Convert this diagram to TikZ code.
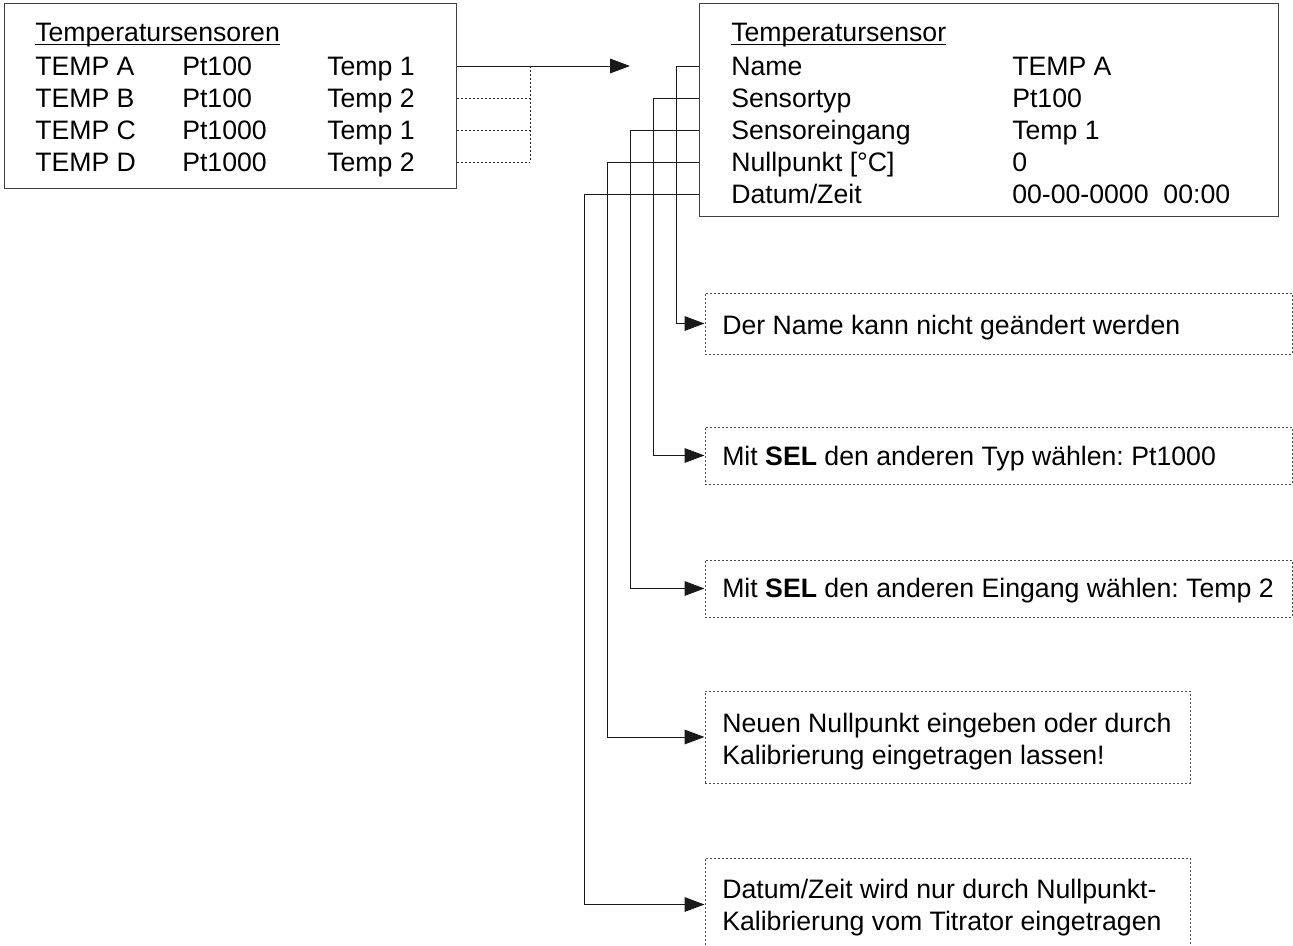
\documentclass[tikz,border=0pt]{standalone}
\usepackage{fontspec}
\setmainfont{Liberation Sans}
\usetikzlibrary{fit,arrows.meta}
\frenchspacing
\newcommand{\ulined}[1]{\setbox0\hbox{#1}\rlap{\rule[-2.6pt]{\wd0}{0.9pt}}#1}

\begin{document}
\begin{tikzpicture}[x=0.75pt, y=-0.75pt, >={Triangle[length=15pt,width=11pt]},
    font=\fontsize{20}{24}\selectfont,
    frame/.style={draw=black!75, line width=0.75pt, inner sep=0pt, fit={#1}},
    callout/.style={draw=black!70, line width=0.75pt, dash pattern=on 1.5pt off 1.5pt,
      inner sep=0pt, fit={#1}},
    txt/.style={anchor=west, inner sep=0pt, text height=19pt, text depth=5pt},
    txtml/.style={anchor=base west, inner sep=0pt, align=left},
    link/.style={black!90, line width=0.75pt},
    hint/.style={black!85, line width=0.75pt, dash pattern=on 1.5pt off 1.5pt}]
  \useasboundingbox (0,0) rectangle (1293,946);

  \node[frame={(4,3) (456,188)}] (sensors) {};
  \node[txt] (lhead) at (35,32) {\ulined{Temperatursensoren}};
  \foreach \n/\y/\s/\t in {A/66/Pt100/1, B/98/Pt100/2, C/130/Pt1000/1, D/162/Pt1000/2}{
    \node[txt] (l\n) at (35,\y) {TEMP \n};
    \node[txt] (p\n) at (182,\y) {\s};
    \node[txt] (t\n) at (327,\y) {Temp \t};
  }

  \node[frame={(699,3) (1278,216)}] (param) {};
  \node[txt] (rhead) at (731,32) {\ulined{Temperatursensor}};
  \foreach \n/\y/\lbl/\val in {rName/66/Name/TEMP A, rTyp/98/Sensortyp/Pt100,
      rEin/130/Sensoreingang/Temp 1, rNull/162/{Nullpunkt [°C]}/0,
      rDat/194/{Datum/Zeit}/{00-00-0000\ \ 00:00}}{
    \node[txt] (\n) at (731,\y) {\lbl};
    \node[txt] (v\n) at (1012,\y) {\val};
  }

  \node[callout={(705,293) (1292,354)}] (cName) {};
  \node[callout={(705,427) (1292,484)}] (cTyp) {};
  \node[callout={(705,560) (1292,617)}] (cEin) {};
  \node[callout={(705,691) (1190,783)}] (cNull) {};
  \node[callout={(705,858) (1190,951)}] (cDat) {};
  \node[txt] (xName) at (722,325) {Der Name kann nicht geändert werden};
  \node[txt] (xTyp) at (722,456) {Mit \textbf{SEL} den anderen Typ wählen: Pt1000};
  \node[txt] (xEin) at (722,588) {Mit \textbf{SEL} den anderen Eingang wählen: Temp 2};
  \node[txtml] (xNull) at (722,764) {Neuen Nullpunkt eingeben oder durch\\Kalibrierung eingetragen lassen!};
  \node[txtml] (xDat) at (722,930) {Datum/Zeit wird nur durch Nullpunkt-\\Kalibrierung vom Titrator eingetragen};

  \coordinate (tip) at (630,66);
  \coordinate (join) at (530,66);
  \draw[link,->] (sensors.east |- lA) -- (tip);
  \foreach \n in {B,C,D}
    \draw[hint] (sensors.east |- l\n) -- (join |- l\n);
  \draw[hint] (join) -- (join |- lD);

  \foreach \r/\c/\dx in {rName/cName/22, rTyp/cTyp/45, rEin/cEin/68, rNull/cNull/91, rDat/cDat/114}
    \draw[link,->] (param.west |- \r) -- ++(-\dx,0) |- (\c.west);
\end{tikzpicture}
\end{document}
